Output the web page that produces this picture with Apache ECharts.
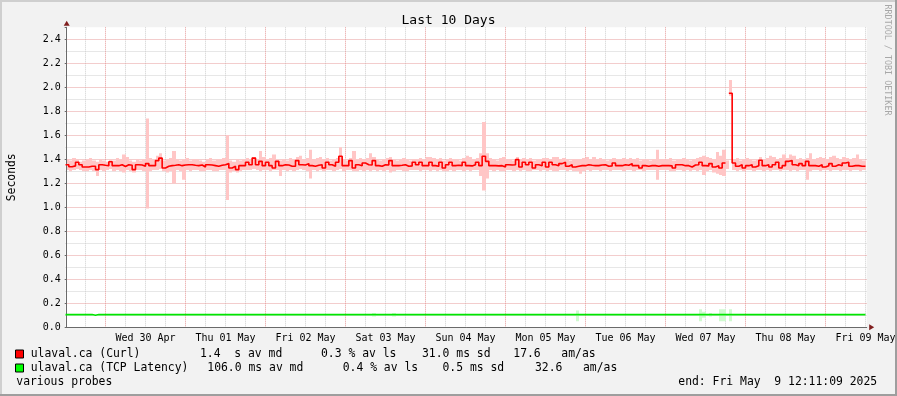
<!DOCTYPE html>
<html><head><meta charset="utf-8">
<script src="https://cdn.jsdelivr.net/npm/echarts@6/dist/echarts.min.js"></script>
<style>
html,body{margin:0;padding:0;background:#f2f2f2;overflow:hidden;}
#c{position:absolute;left:0;top:0;width:897px;height:396px;}
.b{position:absolute;pointer-events:none;}
</style></head><body>
<div id="c"></div>
<div class="b" style="left:0;top:0;width:897px;height:2px;background:#cfcfcf"></div>
<div class="b" style="left:0;top:0;width:2px;height:396px;background:#cfcfcf"></div>
<div class="b" style="left:0;top:394px;width:897px;height:2px;background:#9e9e9e"></div>
<div class="b" style="left:895px;top:0;width:2px;height:396px;background:#9e9e9e"></div>
<script>
// Hours relative to Wed 30 Apr 00:00; bucket i covers [startHour+i, startHour+i+1]
const startHour = -12;
const dayLabels = ['Wed 30 Apr','Thu 01 May','Fri 02 May','Sat 03 May','Sun 04 May','Mon 05 May','Tue 06 May','Wed 07 May','Thu 08 May','Fri 09 May'];

const curlMedian = [
1.355,1.338,1.345,1.375,1.355,1.336,1.336,1.342,1.342,1.314,
1.355,1.350,1.347,1.380,1.347,1.347,1.355,1.340,1.355,1.350,
1.314,1.355,1.352,1.342,1.364,1.347,1.347,1.389,1.410,1.328,
1.342,1.347,1.350,1.355,1.347,1.352,1.355,1.355,1.350,1.347,
1.352,1.336,1.355,1.352,1.347,1.342,1.350,1.355,1.364,1.328,
1.342,1.314,1.347,1.347,1.375,1.355,1.410,1.355,1.383,1.347,
1.375,1.347,1.328,1.383,1.347,1.355,1.352,1.342,1.342,1.389,
1.355,1.352,1.364,1.347,1.342,1.350,1.355,1.328,1.375,1.355,
1.342,1.375,1.425,1.347,1.347,1.389,1.328,1.355,1.347,1.369,
1.355,1.352,1.389,1.347,1.342,1.355,1.352,1.389,1.347,1.347,
1.350,1.355,1.342,1.345,1.375,1.355,1.375,1.347,1.347,1.375,
1.347,1.342,1.375,1.328,1.355,1.375,1.347,1.350,1.347,1.375,
1.347,1.345,1.355,1.375,1.347,1.425,1.383,1.347,1.347,1.345,
1.347,1.336,1.355,1.352,1.355,1.397,1.336,1.375,1.355,1.375,
1.328,1.355,1.347,1.375,1.336,1.375,1.355,1.347,1.364,1.375,
1.342,1.355,1.336,1.342,1.347,1.347,1.355,1.350,1.347,1.347,
1.352,1.355,1.342,1.345,1.369,1.347,1.347,1.355,1.350,1.364,
1.347,1.347,1.328,1.347,1.342,1.347,1.347,1.342,1.347,1.347,
1.347,1.345,1.328,1.355,1.355,1.347,1.347,1.336,1.352,1.355,
1.375,1.347,1.345,1.364,1.336,1.347,1.328,1.369,null,1.950,
1.369,1.342,1.355,1.328,1.347,1.355,1.336,1.347,1.392,1.347,
1.355,1.336,1.355,1.375,1.328,1.347,1.383,1.389,1.355,1.347,
1.364,1.347,1.383,1.347,1.347,1.342,1.355,1.336,1.347,1.364,
1.342,1.355,1.347,1.369,1.375,1.342,1.347,1.347,1.342,1.342
];
const curlHi = [
1.40,1.39,1.41,1.40,1.38,1.39,1.40,1.41,1.39,1.38, 1.40,1.39,1.38,1.40,1.39,1.41,1.40,1.44,1.42,1.39,
1.38,1.40,1.39,1.40,1.74,1.41,1.40,1.43,1.45,1.39, 1.40,1.41,1.47,1.40,1.39,1.40,1.41,1.39,1.40,1.40,
1.39,1.38,1.40,1.41,1.39,1.40,1.40,1.41,1.60,1.39, 1.38,1.40,1.39,1.40,1.41,1.40,1.42,1.40,1.47,1.42,
1.40,1.41,1.44,1.40,1.39,1.40,1.39,1.41,1.40,1.42, 1.43,1.40,1.41,1.48,1.40,1.41,1.42,1.40,1.41,1.39,
1.40,1.41,1.50,1.40,1.39,1.41,1.47,1.40,1.41,1.40, 1.41,1.45,1.42,1.40,1.39,1.40,1.41,1.42,1.40,1.39,
1.40,1.41,1.40,1.39,1.40,1.40,1.41,1.40,1.42,1.42, 1.41,1.40,1.41,1.39,1.40,1.41,1.40,1.40,1.39,1.41,
1.43,1.42,1.40,1.41,1.45,1.71,1.45,1.41,1.40,1.39, 1.41,1.42,1.40,1.40,1.39,1.42,1.40,1.41,1.40,1.41,
1.39,1.40,1.40,1.41,1.41,1.40,1.42,1.42,1.40,1.41, 1.40,1.39,1.40,1.40,1.40,1.41,1.42,1.40,1.42,1.40,
1.41,1.40,1.39,1.40,1.41,1.40,1.40,1.41,1.40,1.41, 1.40,1.41,1.39,1.40,1.40,1.39,1.40,1.48,1.40,1.40,
1.40,1.41,1.39,1.40,1.40,1.41,1.40,1.39,1.40,1.41, 1.42,1.43,1.42,1.41,1.40,1.46,1.43,1.48,1.39,2.06,
1.40,1.41,1.39,1.40,1.41,1.40,1.39,1.40,1.42,1.40, 1.41,1.43,1.42,1.40,1.41,1.44,1.41,1.44,1.43,1.40,
1.41,1.40,1.41,1.45,1.40,1.41,1.42,1.41,1.40,1.42, 1.43,1.41,1.40,1.42,1.41,1.40,1.41,1.44,1.40,1.39
];
const curlLo = [
1.31,1.30,1.31,1.32,1.31,1.30,1.30,1.31,1.30,1.26, 1.31,1.30,1.31,1.32,1.30,1.31,1.30,1.29,1.31,1.30,
1.29,1.31,1.31,1.30,0.99,1.30,1.31,1.31,1.32,1.30, 1.29,1.30,1.20,1.31,1.30,1.23,1.31,1.30,1.31,1.31,
1.30,1.30,1.31,1.31,1.30,1.30,1.31,1.31,1.06,1.29, 1.30,1.29,1.30,1.31,1.31,1.31,1.32,1.31,1.30,1.31,
1.31,1.30,1.31,1.31,1.26,1.31,1.30,1.31,1.30,1.31, 1.32,1.31,1.30,1.24,1.31,1.30,1.31,1.30,1.31,1.31,
1.30,1.31,1.32,1.30,1.31,1.31,1.30,1.30,1.31,1.30, 1.31,1.30,1.31,1.30,1.31,1.30,1.31,1.29,1.30,1.31,
1.31,1.30,1.30,1.31,1.31,1.31,1.30,1.31,1.31,1.30, 1.31,1.30,1.31,1.30,1.30,1.31,1.30,1.31,1.31,1.30,
1.31,1.30,1.31,1.31,1.26,1.14,1.24,1.31,1.30,1.31, 1.30,1.30,1.31,1.31,1.30,1.31,1.30,1.31,1.30,1.30,
1.31,1.31,1.30,1.31,1.30,1.31,1.30,1.30,1.31,1.31, 1.30,1.31,1.30,1.30,1.28,1.30,1.31,1.30,1.31,1.31,
1.30,1.31,1.31,1.30,1.31,1.31,1.31,1.30,1.31,1.31, 1.30,1.31,1.31,1.30,1.31,1.31,1.31,1.23,1.31,1.31,
1.31,1.30,1.30,1.31,1.31,1.30,1.31,1.30,1.31,1.30, 1.31,1.27,1.30,1.31,1.29,1.28,1.27,1.26,1.32,1.93,
1.31,1.30,1.31,1.30,1.31,1.31,1.30,1.31,1.31,1.30, 1.31,1.30,1.31,1.31,1.30,1.31,1.31,1.30,1.31,1.30,
1.31,1.31,1.23,1.30,1.31,1.31,1.30,1.31,1.31,1.30, 1.31,1.31,1.30,1.31,1.31,1.30,1.31,1.31,1.30,1.31
];
const tcpMedian = [
0.106,0.106,0.106,0.106,0.106,0.106,0.106,0.106,0.100,0.106,
0.106,0.106,0.106,0.106,0.106,0.106,0.106,0.106,0.106,0.106,
0.106,0.106,0.106,0.106,0.106,0.106,0.106,0.106,0.106,0.106,
0.106,0.106,0.106,0.106,0.106,0.106,0.106,0.106,0.106,0.106,
0.106,0.106,0.106,0.106,0.106,0.106,0.106,0.106,0.106,0.106,
0.106,0.106,0.106,0.106,0.106,0.106,0.106,0.106,0.106,0.106,
0.106,0.106,0.106,0.106,0.106,0.106,0.106,0.106,0.106,0.106,
0.106,0.106,0.106,0.106,0.106,0.106,0.106,0.106,0.106,0.106,
0.106,0.106,0.106,0.106,0.106,0.106,0.106,0.106,0.106,0.106,
0.106,0.106,0.106,0.106,0.106,0.106,0.106,0.106,0.106,0.106,
0.106,0.106,0.106,0.106,0.106,0.106,0.106,0.106,0.106,0.106,
0.106,0.106,0.106,0.106,0.106,0.106,0.106,0.106,0.106,0.106,
0.106,0.106,0.106,0.106,0.106,0.106,0.106,0.106,0.106,0.106,
0.106,0.106,0.106,0.106,0.106,0.106,0.106,0.106,0.106,0.106,
0.106,0.106,0.106,0.106,0.106,0.106,0.106,0.106,0.106,0.106,
0.106,0.106,0.106,0.106,0.106,0.106,0.106,0.106,0.106,0.106,
0.106,0.106,0.106,0.106,0.106,0.106,0.106,0.106,0.106,0.106,
0.106,0.106,0.106,0.106,0.106,0.106,0.106,0.106,0.106,0.106,
0.106,0.106,0.106,0.106,0.106,0.106,0.106,0.106,0.106,0.106,
0.106,0.106,0.106,0.106,0.106,0.106,0.106,0.106,0.106,0.106,
0.106,0.106,0.106,0.106,0.106,0.106,0.106,0.106,0.106,0.106,
0.106,0.106,0.106,0.106,0.106,0.106,0.106,0.106,0.106,0.106,
0.106,0.106,0.106,0.106,0.106,0.106,0.106,0.106,0.106,0.106,
0.106,0.106,0.106,0.106,0.106,0.106,0.106,0.106,0.106,0.106
];
const tcpSmokeBucket = [92, 98, 153, 190, 191, 193, 196, 197, 199];
const tcpSmokeLo =     [0.09, 0.09, 0.05, 0.05, 0.08, 0.09, 0.05, 0.05, 0.05];
const tcpSmokeHi =     [0.12, 0.12, 0.14, 0.15, 0.13, 0.12, 0.15, 0.15, 0.15];

function stepData(arr){
  const out=[];
  arr.forEach((v,i)=>{
    const x=startHour+i;
    if(v===null){ out.push([x,'-']); }
    else { out.push([x,v]); out.push([x+1,v]); }
  });
  return out;
}
const curlSmoke = curlLo.map((lo,i)=>[startHour+i, lo, curlHi[i]]);
const tcpSmoke = tcpSmokeBucket.map((b,k)=>[startHour+b, tcpSmokeLo[k], tcpSmokeHi[k]]);

function smokeRender(color){
  return function(params, api){
    const x=api.value(0);
    const p1=api.coord([x, api.value(2)]);
    const p2=api.coord([x+1, api.value(1)]);
    const x1=Math.round(p1[0]), x2=Math.round(p2[0]);
    return {type:'rect', shape:{x:x1, y:p1[1], width:Math.max(1,x2-x1), height:p2[1]-p1[1]}, style:{fill:color}};
  };
}

const mono='"DejaVu Sans Mono", monospace';
const XMIN=-12, XMAX=228.36, YMAX=2.5;
const G_LEFT=65.5, G_TOP=27.3, G_W=801.2, G_H=300;
const PX_PER_H = G_W/(XMAX-XMIN), PX_PER_Y = G_H/YMAX;
const GRID_MINOR='#cfcfcf', GRID_MAJOR='#e69a9a';
const chart=echarts.init(document.getElementById('c'),null,{renderer:'canvas'});
const legendRows = [
  {y:354.5, color:'#ff0000', parts:[[30.7,'ulaval.ca (Curl)'],[200,'1.4  s av md'],[321,'0.3 % av ls'],[422,'31.0 ms sd'],[513.3,'17.6   am/as']]},
  {y:368.5, color:'#00ff00', parts:[[30.7,'ulaval.ca (TCP Latency)'],[207.3,'106.0 ms av md'],[342.7,'0.4 % av ls'],[442.5,'0.5 ms sd'],[535,'32.6   am/as']]}
];
const graphics=[];
legendRows.forEach(r=>{
  graphics.push({type:'rect', shape:{x:15.5,y:r.y-4.5,width:8,height:8}, style:{fill:r.color, stroke:'#000', lineWidth:1}});
  r.parts.forEach(p=>graphics.push({type:'text', x:p[0], y:r.y, style:{text:p[1], font:'11.4px '+mono, fill:'#000', textVerticalAlign:'middle'}}));
});
graphics.push({type:'text', x:16.3, y:382.5, style:{text:'various probes', font:'11.4px '+mono, fill:'#000', textVerticalAlign:'middle'}});
graphics.push({type:'text', x:678.3, y:382.5, style:{text:'end: Fri May  9 12:11:09 2025', font:'11.4px '+mono, fill:'#000', textVerticalAlign:'middle'}});
graphics.push({type:'text', x:887, y:60, rotation:-Math.PI/2, style:{text:'RRDTOOL / TOBI OETIKER', font:'8.4px '+mono, fill:'#a8a8a8', textAlign:'center', textVerticalAlign:'middle'}});

const hidden={axisLine:{show:false}, axisTick:{show:false}, axisLabel:{show:false}};
function split(color){ return {show:true, showMinLine:false, showMaxLine:false, lineStyle:{type:'dotted', width:1, color:color}}; }
const gridBase={containLabel:false, outerBoundsMode:'none', show:false};
chart.setOption({
  animation:false,
  backgroundColor:'#f2f2f2',
  title:{text:'Last 10 Days', left:'center', top:9, textStyle:{fontFamily:mono, fontSize:13, fontWeight:'normal', color:'#000'}},
  grid:[
    Object.assign({}, gridBase, {left:G_LEFT, top:G_TOP, width:G_W, height:G_H, show:true, backgroundColor:'#ffffff', borderWidth:0}),
    // helper grids: extended so that every grid family is counted from one of its own lines
    Object.assign({}, gridBase, {left:G_LEFT-12*PX_PER_H, top:G_TOP, width:G_W+12*PX_PER_H, height:G_H}), // midnights
    Object.assign({}, gridBase, {left:G_LEFT-6*PX_PER_H, top:G_TOP, width:G_W+6*PX_PER_H, height:G_H}),   // 06h / 18h
    Object.assign({}, gridBase, {left:G_LEFT, top:G_TOP, width:G_W, height:G_H+0.1*PX_PER_Y})             // odd tenths
  ],
  xAxis:[
    {type:'value', gridIndex:0, min:XMIN, max:XMAX, interval:24, z:1,
      axisLine:{show:true, onZero:false, lineStyle:{color:'#6a6a6a', width:1}},
      axisTick:{show:false},
      axisLabel:{fontFamily:mono, fontSize:10, color:'#000', margin:6, hideOverlap:false, showMinLabel:true, showMaxLabel:true,
        formatter:v=>{const k=(v-12)/24; return (Number.isInteger(k)&&k>=0&&k<dayLabels.length)?dayLabels[k]:'';}},
      splitLine:split(GRID_MINOR)
    },
    Object.assign({type:'value', gridIndex:1, min:XMIN-12, max:XMAX, interval:24, z:1, splitLine:split(GRID_MAJOR)}, hidden),
    Object.assign({type:'value', gridIndex:2, min:XMIN-6, max:XMAX, interval:12, z:1, splitLine:split(GRID_MINOR)}, hidden),
    Object.assign({type:'value', gridIndex:3, min:XMIN, max:XMAX, z:1, splitLine:{show:false}}, hidden)
  ],
  yAxis:[
    {type:'value', gridIndex:0, min:0, max:YMAX, interval:0.2, offset:-1.2, z:2,
      name:'Seconds', nameLocation:'middle', nameRotate:90, nameGap:49, nameTextStyle:{fontFamily:mono, fontSize:11.4, color:'#000'},
      axisLine:{show:true, onZero:false, lineStyle:{color:'#6a6a6a', width:1}},
      axisTick:{show:true, length:2, lineStyle:{color:'#6a6a6a'}},
      axisLabel:{fontFamily:mono, fontSize:10, color:'#000', margin:6,
        formatter:v=>{const t=Math.round(v*10); return (t<25)?(t/10).toFixed(1):'';}},
      splitLine:split(GRID_MAJOR)
    },
    Object.assign({type:'value', gridIndex:1, min:0, max:YMAX, splitLine:{show:false}}, hidden),
    Object.assign({type:'value', gridIndex:2, min:0, max:YMAX, splitLine:{show:false}}, hidden),
    Object.assign({type:'value', gridIndex:3, min:-0.1, max:YMAX, interval:0.2, z:1, splitLine:split(GRID_MINOR)}, hidden)
  ],
  graphic:graphics,
  series:[
    {type:'custom', name:'curl smoke', renderItem:smokeRender('#ffc6c6'), data:curlSmoke, encode:{x:0,y:[1,2]}, clip:true, silent:true, z:2},
    {type:'custom', name:'tcp smoke', renderItem:smokeRender('#d0fad0'), data:tcpSmoke, encode:{x:0,y:[1,2]}, clip:true, silent:true, z:2},
    {type:'line', name:'ulaval.ca (TCP Latency)', data:stepData(tcpMedian), showSymbol:false, symbol:'none', lineStyle:{color:'#00e600', width:1.6}, clip:true, silent:true, z:3},
    {type:'line', name:'ulaval.ca (Curl)', data:stepData(curlMedian), showSymbol:false, symbol:'none', lineStyle:{color:'#ff0000', width:1.6}, clip:true, silent:true, z:4,
      markPoint:{silent:true, animation:false, label:{show:false},
        data:[
          {coord:[XMIN+0.36, YMAX], symbol:'triangle', symbolSize:[6,5], symbolOffset:[0,-4], itemStyle:{color:'#801f1f'}},
          {coord:[XMAX, 0], symbol:'triangle', symbolSize:[6,5], symbolRotate:-90, symbolOffset:[5,0], itemStyle:{color:'#801f1f'}}
        ]}
    }
  ]
});
</script>
</body></html>
